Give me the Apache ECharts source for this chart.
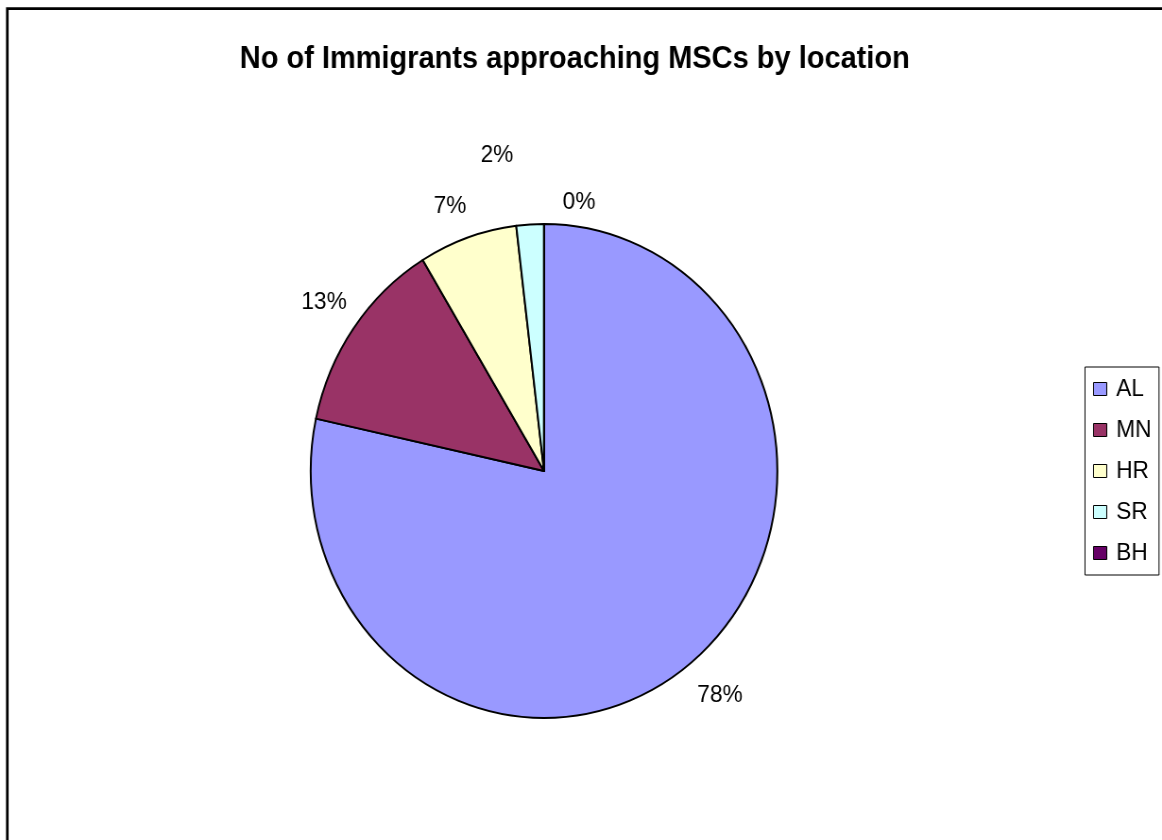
<!DOCTYPE html>
<html><head><meta charset="utf-8">
<script src="https://cdn.jsdelivr.net/npm/echarts@6/dist/echarts.min.js"></script>
<style>
html,body{margin:0;padding:0;background:#fff;overflow:hidden;}
#wrap{width:1162px;height:840px;overflow:hidden;position:relative;background:#fff;}
#chart{width:1230px;height:840px;transform:scaleX(0.944715);transform-origin:0 0;}
</style></head><body>
<div id="wrap"><div id="chart"></div></div>
<script>
// ---- data ----
const titleText = 'No of Immigrants approaching MSCs by location';
const categories = ['AL', 'MN', 'HR', 'SR', 'BH'];
const values = [78.4, 12.9, 6.8, 1.9, 0];
const colors = ['#9999FF', '#993366', '#FFFFCC', '#CCFFFF', '#660066'];

// ---- layout (chart coordinates, before horizontal squeeze) ----
const SX = 1162 / 1230;
const cx = 544 / SX, cy = 471, R = 247;
const labelPos = [[720, 695], [324, 302], [450, 206], [497, 155], [579, 202]]; // screen px

const chart = echarts.init(document.getElementById('chart'), null, {renderer: 'canvas'});
chart.setOption({
  animation: false,
  backgroundColor: '#fff',
  color: colors,
  title: {
    text: titleText,
    left: 235 / SX, top: 39,
    textStyle: {fontFamily: 'Liberation Sans, Arial, sans-serif', fontWeight: 'bold', fontSize: 30.7, color: '#000'}
  },
  legend: {
    orient: 'vertical',
    left: 1085 / SX, top: 367,
    data: categories,
    icon: 'rect',
    itemWidth: 14, itemHeight: 13, itemGap: 17,
    padding: [10, 8, 10, 8.5],
    borderColor: '#000', borderWidth: 1,
    itemStyle: {borderColor: '#000', borderWidth: 1},
    textStyle: {fontFamily: 'Liberation Sans, Arial, sans-serif', fontSize: 24, lineHeight: 24, color: '#000', padding: [0, 0, 0, 5]}
  },
  graphic: [{
    type: 'rect', silent: true,
    shape: {x: 7.3 / SX, y: 8.7, width: 3000, height: 3000},
    style: {fill: 'none', stroke: '#000', lineWidth: 2.7}
  }],
  series: [{
    type: 'pie',
    center: [cx, cy],
    radius: R,
    startAngle: 90,
    clockwise: true,
    avoidLabelOverlap: false,
    stillShowZeroSum: true,
    data: categories.map((c, i) => ({name: c, value: values[i]})),
    itemStyle: {borderColor: '#000', borderWidth: 2},
    emphasis: {disabled: true},
    label: {
      show: true, position: 'outside',
      formatter: p => Math.round(p.percent) + '%',
      fontFamily: 'Liberation Sans, Arial, sans-serif', fontSize: 24, color: '#000'
    },
    labelLine: {show: false},
    labelLayout: p => ({
      x: labelPos[p.dataIndex][0] / SX,
      y: labelPos[p.dataIndex][1],
      align: 'center', verticalAlign: 'middle'
    })
  }]
});
</script>
</body></html>
